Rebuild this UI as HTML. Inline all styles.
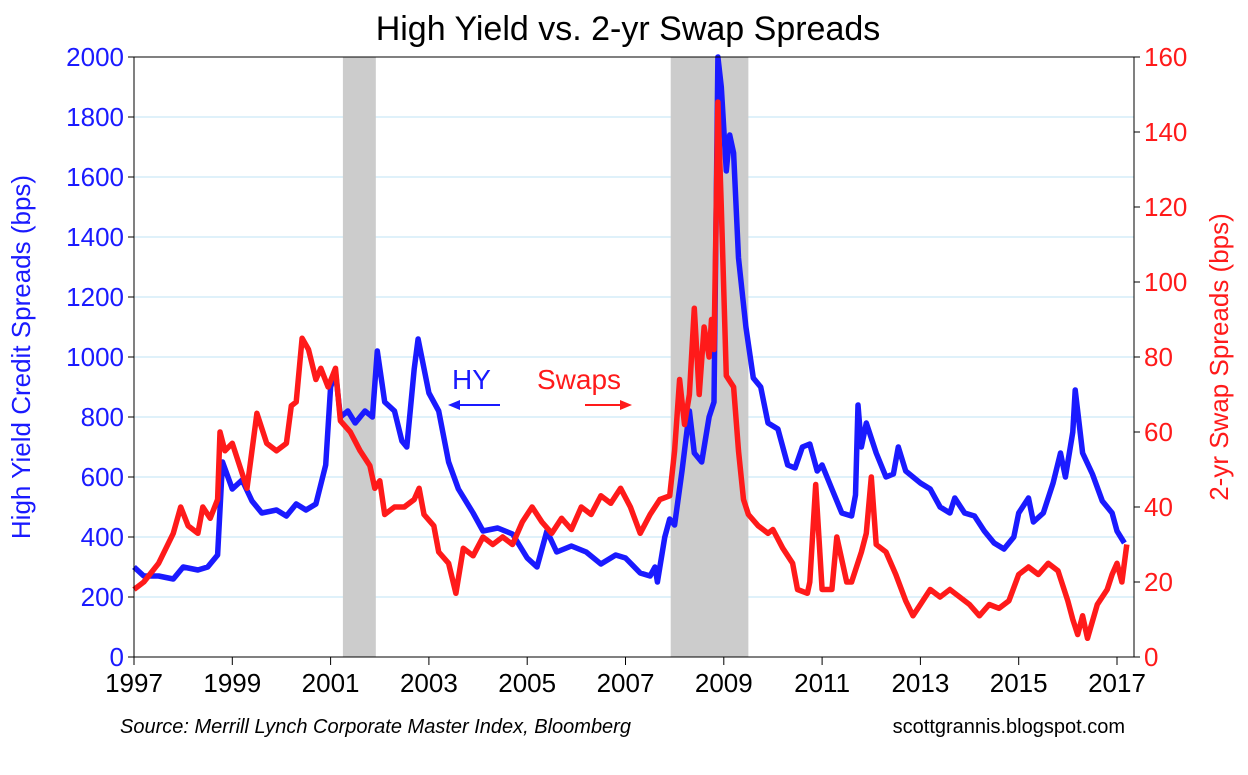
<!DOCTYPE html>
<html><head><meta charset="utf-8"><style>
body{margin:0;background:#fff;}
svg text{font-family:"Liberation Sans",sans-serif;}
</style></head><body>
<svg id="chart" width="1248" height="770" viewBox="0 0 1248 770" xmlns="http://www.w3.org/2000/svg">
<text x="628" y="40" text-anchor="middle" font-size="34" fill="#000">High Yield vs. 2-yr Swap Spreads</text>
<g id="grid"></g><g id="bands"></g><g id="series"></g><g id="axes"></g>
<text transform="translate(30,357) rotate(-90)" text-anchor="middle" font-size="26" fill="#1a1aff">High Yield Credit Spreads (bps)</text>
<text transform="translate(1228,357) rotate(-90)" text-anchor="middle" font-size="26" fill="#ff1a1a">2-yr Swap Spreads (bps)</text>
<text x="452" y="389" font-size="28" fill="#1a1aff">HY</text>
<line x1="500" y1="405" x2="453" y2="405" stroke="#1a1aff" stroke-width="2"/>
<polygon points="448,405 460,400 460,410" fill="#1a1aff"/>
<text x="537" y="389" font-size="28" fill="#ff1a1a">Swaps</text>
<line x1="585" y1="405" x2="625" y2="405" stroke="#ff1a1a" stroke-width="2"/>
<polygon points="632,405 620,400 620,410" fill="#ff1a1a"/>
<text x="120" y="733" font-size="20" font-style="italic" fill="#000">Source: Merrill Lynch Corporate Master Index, Bloomberg</text>
<text x="1125" y="733" font-size="20" text-anchor="end" fill="#000">scottgrannis.blogspot.com</text>
</svg>
<script>
const xTicks=[1997,1999,2001,2003,2005,2007,2009,2011,2013,2015,2017];
const leftTicks=[0,200,400,600,800,1000,1200,1400,1600,1800,2000];
const rightTicks=[0,20,40,60,80,100,120,140,160];
const recessions=[[2001.25,2001.92],[2007.92,2009.5]];
const hyDates=[1997.0,1997.2,1997.5,1997.8,1998.0,1998.3,1998.5,1998.7,1998.8,1999.0,1999.2,1999.4,1999.6,1999.9,2000.1,2000.3,2000.5,2000.7,2000.9,2001.0,2001.1,2001.2,2001.35,2001.5,2001.7,2001.85,2001.95,2002.1,2002.3,2002.45,2002.55,2002.7,2002.78,2003.0,2003.2,2003.4,2003.6,2003.9,2004.1,2004.4,2004.7,2005.0,2005.2,2005.4,2005.6,2005.9,2006.2,2006.5,2006.8,2007.0,2007.3,2007.5,2007.6,2007.65,2007.8,2007.9,2008.0,2008.15,2008.3,2008.4,2008.55,2008.7,2008.8,2008.88,2008.95,2009.05,2009.12,2009.2,2009.3,2009.45,2009.6,2009.75,2009.9,2010.1,2010.3,2010.45,2010.6,2010.75,2010.9,2011.0,2011.2,2011.4,2011.6,2011.68,2011.73,2011.8,2011.9,2012.1,2012.3,2012.45,2012.55,2012.7,2013.0,2013.2,2013.4,2013.6,2013.7,2013.9,2014.1,2014.3,2014.5,2014.7,2014.9,2015.0,2015.2,2015.3,2015.5,2015.7,2015.85,2015.95,2016.1,2016.15,2016.3,2016.5,2016.7,2016.9,2017.0,2017.15];
const hyValues=[300,270,270,260,300,290,300,340,650,560,590,520,480,490,470,510,490,510,640,900,950,800,820,780,820,800,1020,850,820,720,700,960,1060,880,820,650,560,480,420,430,410,330,300,420,350,370,350,310,340,330,280,270,300,250,400,460,440,620,820,680,650,800,850,2000,1900,1620,1740,1680,1330,1100,930,900,780,760,640,630,700,710,620,640,560,480,470,540,840,700,780,680,600,610,700,620,580,560,500,480,530,480,470,420,380,360,400,480,530,450,480,580,680,600,750,890,680,610,520,480,420,380];
const swDates=[1997.0,1997.2,1997.5,1997.8,1997.95,1998.1,1998.3,1998.4,1998.55,1998.7,1998.75,1998.85,1999.0,1999.3,1999.5,1999.7,1999.9,2000.1,2000.2,2000.3,2000.42,2000.55,2000.7,2000.8,2000.95,2001.1,2001.2,2001.4,2001.6,2001.8,2001.9,2002.0,2002.1,2002.3,2002.5,2002.7,2002.8,2002.9,2003.1,2003.2,2003.4,2003.55,2003.7,2003.9,2004.1,2004.3,2004.5,2004.7,2004.9,2005.1,2005.3,2005.5,2005.7,2005.9,2006.1,2006.3,2006.5,2006.7,2006.9,2007.1,2007.3,2007.5,2007.7,2007.9,2008.0,2008.1,2008.2,2008.3,2008.4,2008.5,2008.6,2008.7,2008.75,2008.8,2008.88,2008.95,2009.05,2009.2,2009.3,2009.4,2009.5,2009.7,2009.9,2010.0,2010.2,2010.4,2010.5,2010.7,2010.75,2010.87,2011.0,2011.2,2011.3,2011.5,2011.6,2011.8,2011.9,2012.0,2012.1,2012.3,2012.5,2012.7,2012.85,2013.0,2013.2,2013.4,2013.6,2013.8,2014.0,2014.2,2014.4,2014.6,2014.8,2015.0,2015.2,2015.4,2015.6,2015.8,2016.0,2016.1,2016.2,2016.3,2016.4,2016.6,2016.8,2016.9,2017.0,2017.1,2017.2];
const swValues=[18,20,25,33,40,35,33,40,37,42,60,55,57,45,65,57,55,57,67,68,85,82,74,77,72,77,63,60,55,51,45,47,38,40,40,42,45,38,35,28,25,17,29,27,32,30,32,30,36,40,36,33,37,34,40,38,43,41,45,40,33,38,42,43,55,74,62,70,93,70,88,80,90,82,148,120,75,72,55,42,38,35,33,34,29,25,18,17,20,46,18,18,32,20,20,28,33,48,30,28,22,15,11,14,18,16,18,16,14,11,14,13,15,22,24,22,25,23,15,10,6,11,5,14,18,22,25,20,30,37];

const X0=134,X1=1134,Y0=657,Y1=57;
const xs=y=>X0+(y-1997)*49.15;
const yl=v=>Y0-(v/2000)*(Y0-Y1);
const yr=v=>Y0-(v/160)*(Y0-Y1);
const NS="http://www.w3.org/2000/svg";
function mk(tag,attrs,parent){const e=document.createElementNS(NS,tag);for(const k in attrs)e.setAttribute(k,attrs[k]);document.getElementById(parent).appendChild(e);return e;}

leftTicks.forEach(v=>{
  if(v>0&&v<2000){const g=mk('line',{x1:X0,x2:X1,y1:yl(v),y2:yl(v),stroke:'#bfe3f5','stroke-width':1},'grid');
  
  }
  const t=mk('text',{x:X0-10,y:yl(v)+9,'text-anchor':'end','font-size':26,fill:'#1a1aff'},'axes');t.textContent=v;
  
  
  const tk=mk('line',{x1:X0-6,x2:X0,y1:yl(v),y2:yl(v),stroke:'#000'},'axes');
  
  
});
rightTicks.forEach(v=>{
  const t=mk('text',{x:X1+10,y:yr(v)+9,'text-anchor':'start','font-size':26,fill:'#ff1a1a'},'axes');t.textContent=v;
  
  
  const tk=mk('line',{x1:X1,x2:X1+6,y1:yr(v),y2:yr(v),stroke:'#000'},'axes');
  
  
});
xTicks.forEach(y=>{
  const t=mk('text',{x:xs(y),y:Y0+35,'text-anchor':'middle','font-size':26,fill:'#000'},'axes');t.textContent=y;
  
  
  const tk=mk('line',{x1:xs(y),x2:xs(y),y1:Y0,y2:Y0+8,stroke:'#000'},'axes');
  
  
});
recessions.forEach(r=>{
  const b=mk('rect',{x:xs(r[0]),y:Y1,width:xs(r[1])-xs(r[0]),height:Y0-Y1,fill:'#cccccc'},'bands');
  
  
});
const frame=mk('rect',{x:X0,y:Y1,width:X1-X0,height:Y0-Y1,fill:'none',stroke:'#000','stroke-width':1},'axes');



const hp=hyDates.map((d,i)=>xs(d).toFixed(1)+','+yl(hyValues[i]).toFixed(1)).join(' ');
const hy=mk('polyline',{points:hp,fill:'none',stroke:'#1a1aff','stroke-width':5.5,'stroke-linejoin':'round'},'series');


const sp=swDates.map((d,i)=>xs(d).toFixed(1)+','+yr(swValues[i]).toFixed(1)).join(' ');
const sw=mk('polyline',{points:sp,fill:'none',stroke:'#ff1a1a','stroke-width':5.5,'stroke-linejoin':'round'},'series');


</script>
</body></html>
